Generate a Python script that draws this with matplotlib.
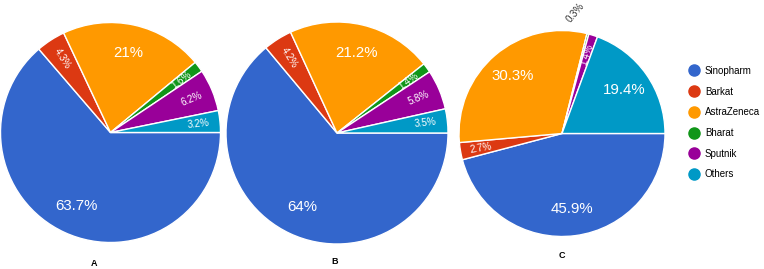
import matplotlib

matplotlib.use("Agg")
import matplotlib.pyplot as plt
from matplotlib.lines import Line2D
import numpy as np

plt.rcParams["font.family"] = ["Liberation Sans", "DejaVu Sans"]

vaccines = ["Sinopharm", "Barkat", "AstraZeneca", "Bharat", "Sputnik", "Others"]
colors = ["#3366cc", "#dc3912", "#ff9900", "#109618", "#990099", "#0099c6"]

share_a = [63.7, 4.3, 21.0, 1.6, 6.2, 3.2]
share_b = [64.0, 4.2, 21.2, 1.4, 5.8, 3.5]
share_c = [45.9, 2.7, 30.3, 0.3, 1.4, 19.4]

labels_a = ["63.7%", "4.3%", "21%", "1.6%", "6.2%", "3.2%"]
labels_b = ["64%", "4.2%", "21.2%", "1.4%", "5.8%", "3.5%"]
labels_c = ["45.9%", "2.7%", "30.3%", "0.3%", "1.4%", "19.4%"]

panel_names = ["A", "B", "C"]

W, H = 764, 269
fig = plt.figure(figsize=(W / 100, H / 100), dpi=100)


def px_axes(cx, cy, r):
    return fig.add_axes([(cx - r) / W, (H - cy - r) / H, 2 * r / W, 2 * r / H])


def draw_pie(ax, values, labels):
    wedges, _ = ax.pie(values, colors=colors, startangle=0, counterclock=False,
                       radius=1.0, wedgeprops=dict(edgecolor="white", linewidth=1.0))
    ax.set_xlim(-1, 1)
    ax.set_ylim(-1, 1)
    ax.set_aspect("equal")
    ax.axis("off")
    for w, v, lab in zip(wedges, values, labels):
        ang = (w.theta1 + w.theta2) / 2
        rad = np.deg2rad(ang)
        if v >= 10:
            d = 0.74
            ax.text(d * np.cos(rad), d * np.sin(rad), lab, color="white",
                    fontsize=10.8, ha="center", va="center")
        elif v >= 1:
            d = 0.8
            rot = ang if np.cos(rad) >= 0 else ang - 180
            ax.text(d * np.cos(rad), d * np.sin(rad), lab, color="white",
                    fontsize=7, ha="center", va="center", rotation=rot,
                    rotation_mode="anchor")
        else:
            # tiny slice: label sits outside the pie
            ax.text(0.13, 1.17, lab, color="#333333",
                    fontsize=7, ha="center", va="center", rotation=50,
                    rotation_mode="anchor", clip_on=False)


ax_a = px_axes(110.5, 132.5, 110)
draw_pie(ax_a, share_a, labels_a)
ax_b = px_axes(337, 133, 111)
draw_pie(ax_b, share_b, labels_b)
ax_c = px_axes(562, 133.5, 103)
draw_pie(ax_c, share_c, labels_c)

for name, (x, y) in zip(panel_names, [(94, 264), (335, 261), (562, 255)]):
    fig.text(x / W, 1 - y / H, name, fontsize=6.5, fontweight="bold",
             ha="center", va="center")

handles = [Line2D([], [], marker="o", linestyle="none", markersize=8,
                  markerfacecolor=c, markeredgecolor=c) for c in colors]
fig.legend(handles, vaccines, loc="upper left",
           bbox_to_anchor=(684 / W, 1 - 62 / H), frameon=False,
           fontsize=7.0, labelspacing=1.1, handletextpad=0.55,
           handlelength=1.2, borderaxespad=0)

fig.savefig("out.png", dpi=100)
